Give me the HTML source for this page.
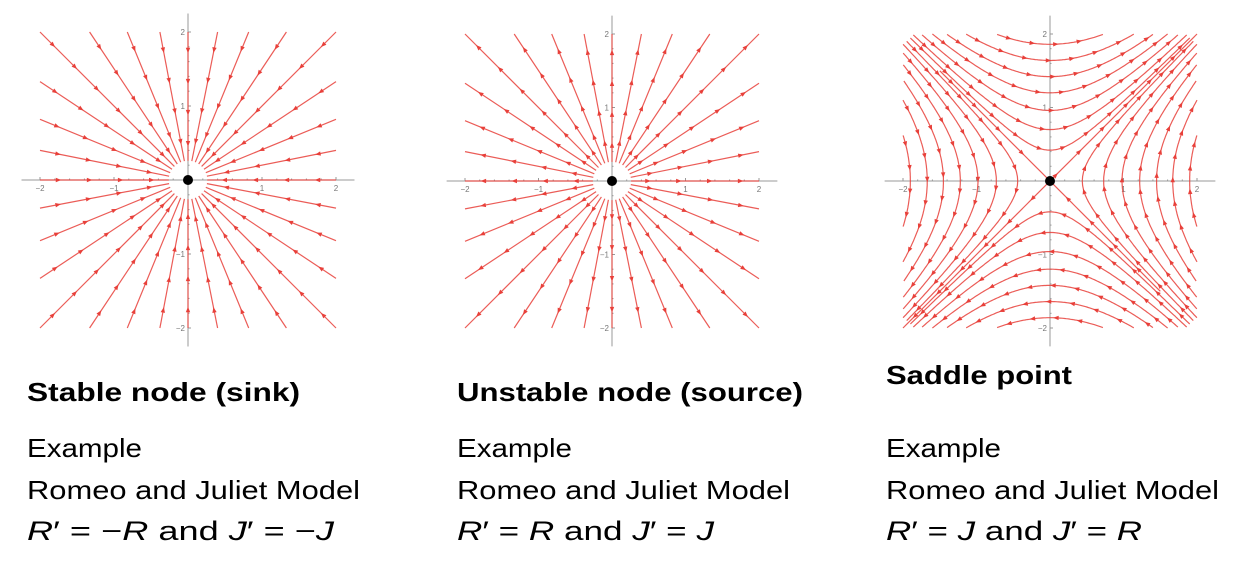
<!DOCTYPE html>
<html><head><meta charset="utf-8"><style>
html,body{margin:0;padding:0;background:#fff;}
svg{display:block;}
</style></head><body>
<svg id="c" width="1234" height="588" viewBox="0 0 1234 588" xmlns="http://www.w3.org/2000/svg">
<g id="plots"></g>
<g font-family="'Liberation Sans', sans-serif" fill="#000">
<text x="27" y="401" font-size="26" font-weight="bold" textLength="273" lengthAdjust="spacingAndGlyphs">Stable node (sink)</text>
<text x="457" y="401" font-size="26" font-weight="bold" textLength="346" lengthAdjust="spacingAndGlyphs">Unstable node (source)</text>
<text x="886" y="384" font-size="26" font-weight="bold" textLength="186" lengthAdjust="spacingAndGlyphs">Saddle point</text>

<text x="27" y="457" font-size="26" textLength="115" lengthAdjust="spacingAndGlyphs">Example</text>
<text x="27" y="499" font-size="26" textLength="333" lengthAdjust="spacingAndGlyphs">Romeo and Juliet Model</text>
<text x="27" y="540" font-size="27" textLength="307" lengthAdjust="spacingAndGlyphs"><tspan font-style="italic">R</tspan>′ = −<tspan font-style="italic">R</tspan> and <tspan font-style="italic">J</tspan>′ = −<tspan font-style="italic">J</tspan></text>

<text x="457" y="457" font-size="26" textLength="115" lengthAdjust="spacingAndGlyphs">Example</text>
<text x="457" y="499" font-size="26" textLength="333" lengthAdjust="spacingAndGlyphs">Romeo and Juliet Model</text>
<text x="457" y="540" font-size="27" textLength="257" lengthAdjust="spacingAndGlyphs"><tspan font-style="italic">R</tspan>′ = <tspan font-style="italic">R</tspan> and <tspan font-style="italic">J</tspan>′ = <tspan font-style="italic">J</tspan></text>

<text x="886" y="457" font-size="26" textLength="115" lengthAdjust="spacingAndGlyphs">Example</text>
<text x="886" y="499" font-size="26" textLength="333" lengthAdjust="spacingAndGlyphs">Romeo and Juliet Model</text>
<text x="886" y="540" font-size="27" textLength="256" lengthAdjust="spacingAndGlyphs"><tspan font-style="italic">R</tspan>′ = <tspan font-style="italic">J</tspan> and <tspan font-style="italic">J</tspan>′ = <tspan font-style="italic">R</tspan></text>
</g>
</svg>
<script>
const edgeVals = [-2, -1.33, -0.82, -0.38, 0, 0.4, 0.82, 1.33, 2];
const saddleA = [0.42, 0.7, 0.96, 1.2, 1.42, 1.64, 1.86];
const saddleB = [0.44, 0.73, 0.98, 1.22, 1.45, 1.67, 1.9];
const tickVals = [-2, -1, 1, 2];
const tickLabels = ['\u22122', '\u22121', '1', '2'];

const NS = 'http://www.w3.org/2000/svg';
const root = document.getElementById('plots');
const RED = '#e8403a';
function mk(tag, attrs, parent) {
  const e = document.createElementNS(NS, tag);
  for (const k in attrs) e.setAttribute(k, attrs[k]);
  parent.appendChild(e);
  return e;
}
function panel(cx, cy, s, name) {
  const g = mk('g', {}, root);
  
  
  const X = v => cx + v * s, Y = v => cy - v * s;
  return {g, X, Y, s, cx, cy};
}
function axes(p) {
  const ax = mk('g', {stroke: '#999', 'stroke-width': 1}, p.g);
  
  
  mk('line', {x1: p.X(-2.25), y1: p.cy, x2: p.X(2.25), y2: p.cy}, ax);
  mk('line', {x1: p.cx, y1: p.Y(2.25), x2: p.cx, y2: p.Y(-2.25)}, ax);
  for (let t = -2; t <= 2.001; t += 0.2) {
    const big = Math.abs(t - Math.round(t)) < 0.01;
    const l = big ? 3 : 1.5;
    mk('line', {x1: p.X(t), y1: p.cy, x2: p.X(t), y2: p.cy - l}, ax);
    mk('line', {x1: p.cx, y1: p.Y(t), x2: p.cx + l, y2: p.Y(t)}, ax);
  }
  tickVals.forEach((v, i) => {
    const tx = mk('text', {x: p.X(v), y: p.cy + 11, 'font-size': 8, fill: '#777', 'text-anchor': 'middle', 'font-family': 'Liberation Sans, sans-serif', stroke: 'none'}, p.g);
    tx.textContent = tickLabels[i];
    
    
    const ty = mk('text', {x: p.cx - 3, y: p.Y(v) + 3, 'font-size': 8, fill: '#777', 'text-anchor': 'end', 'font-family': 'Liberation Sans, sans-serif', stroke: 'none'}, p.g);
    ty.textContent = tickLabels[i];
    
    
  });
}
function arrow(p, px, py, ang) {
  const L = 5.5, W = 2.2;
  const c = Math.cos(ang), sn = Math.sin(ang);
  const tip = [px + c * L / 2, py + sn * L / 2];
  const b = [px - c * L / 2, py - sn * L / 2];
  const pts = [tip, [b[0] - sn * W, b[1] + c * W], [b[0] + sn * W, b[1] - c * W]];
  const a = mk('polygon', {points: pts.map(q => q.join(',')).join(' '), fill: RED}, p.g);
  
  
}
function poly(p, pts, name) {
  const l = mk('polyline', {points: pts.map(q => p.X(q[0]).toFixed(1) + ',' + p.Y(q[1]).toFixed(1)).join(' '), fill: 'none', stroke: RED, 'stroke-width': 1.2, 'stroke-opacity': 0.85}, p.g);
  
  
}
function origin(p) {
  const d = mk('circle', {cx: p.cx, cy: p.cy, r: 5, fill: '#000'}, p.g);
  
  
}
function rayEnds() {
  const e = [];
  edgeVals.forEach(v => { e.push([v, 2]); e.push([v, -2]); });
  edgeVals.filter(v => Math.abs(v) < 2).forEach(v => { e.push([-2, v]); e.push([2, v]); });
  return e;
}
function nodePanel(p, inward) {
  axes(p);
  rayEnds().forEach(([ex, ey]) => {
    const r = Math.hypot(ex, ey), ux = ex / r, uy = ey / r;
    const r0 = 0.26;
    poly(p, [[ux * r0, uy * r0], [ex, ey]], 'trajectory-ray');
    for (let d = r - 0.25; d > 0.4; d -= 0.42) {
      let ang = Math.atan2(-uy, ux);
      if (inward) ang += Math.PI;
      arrow(p, p.X(ux * d), p.Y(uy * d), ang);
    }
  });
  origin(p);
}
function saddlePanel(p) {
  axes(p);
  const curve = (fn, dirfn, name, tmax) => {
    const pts = [];
    for (let t = -tmax; t <= tmax + 1e-9; t += 0.02) {
      const q = fn(t);
      if (Math.abs(q[0]) <= 2.001 && Math.abs(q[1]) <= 2.001) pts.push(q);
    }
    if (pts.length < 2) return;
    poly(p, pts, name);
    for (let i = 8; i < pts.length - 4; i += 16) {
      const [x, y] = pts[i];
      const [vx, vy] = dirfn(x, y);
      arrow(p, p.X(x), p.Y(y), Math.atan2(-vy, vx));
    }
  };
  const v = (x, y) => [y, x];
  saddleA.forEach(a => {
    curve(t => [t, Math.sqrt(a * a + t * t)], v, 'hyperbola-top', 1.9);
    curve(t => [t, -Math.sqrt(a * a + t * t)], v, 'hyperbola-bottom', 1.9);
  });
  saddleB.forEach(b => {
    curve(t => [Math.sqrt(b * b + t * t), t], v, 'hyperbola-right', 1.9);
    curve(t => [-Math.sqrt(b * b + t * t), t], v, 'hyperbola-left', 1.9);
  });
  curve(t => [t, t], v, 'unstable-separatrix', 2);
  curve(t => (Math.abs(t) > 0.15 ? [t, -t] : [9, 9]), v, 'stable-separatrix', 1.5);
  origin(p);
}
nodePanel(panel(188, 180, 74, 'stable-node-plot'), true);
nodePanel(panel(612, 181, 73.5, 'unstable-node-plot'), false);
saddlePanel(panel(1050, 181, 73.5, 'saddle-point-plot'));
</script>
</body></html>
